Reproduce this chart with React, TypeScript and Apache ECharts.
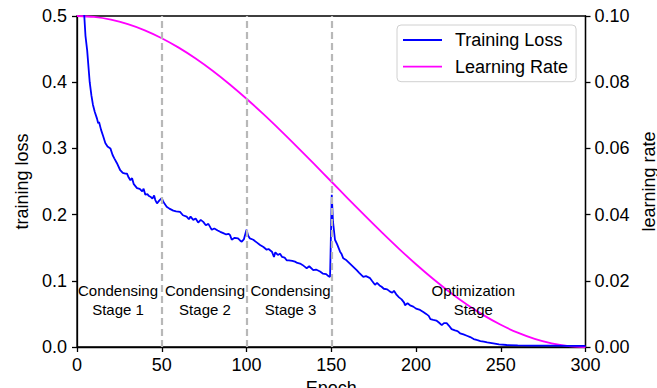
import React, { useEffect, useRef } from "react";
import * as echarts from "echarts";

const lossEpochs = [3, 4.3, 5, 6, 7.5, 8.5, 9.4, 10.5, 11.8, 12.5, 13, 14.2, 15.5, 16.7, 18, 19.7, 21, 22, 23.5, 25.5, 27, 28.5, 29.5, 30.5, 31.5, 32.5, 33.5, 35.4, 37, 38.5, 39.3, 40.3, 41.5, 42.5, 43.3, 44.5, 45.5, 46.2, 47.2, 48.5, 50, 51, 52.9, 54.5, 56.8, 58.5, 60.8, 62.5, 64.7, 66, 67, 68.6, 70, 71.5, 73, 74.5, 76, 77.5, 79.5, 81, 83, 84.5, 86.3, 88, 89.5, 90.3, 91.3, 93, 95, 96.2, 97.2, 98.5, 100, 101, 102, 104, 106, 108, 110, 111.9, 113, 115, 116.2, 117, 118.5, 119.8, 121, 122.5, 123.7, 125, 127, 128.6, 130, 131.6, 133, 134.5, 135.5, 137, 139.4, 141, 143.4, 145, 147, 148.3, 149.3, 150.3, 151, 152.2, 153.5, 155.2, 156, 157.1, 159, 161, 163, 165, 166.5, 168.9, 170.5, 172.9, 174, 175.8, 177, 178.5, 179.7, 181, 183, 184.7, 186, 187, 188.6, 190, 191.5, 193, 193.5, 195, 196.5, 198.4, 200, 202.4, 204.3, 206, 207.5, 208.5, 210.2, 212, 213.5, 215.2, 216.5, 218.1, 219.5, 221, 223, 224.5, 226, 228, 230, 232, 234, 235.8, 238, 240, 242, 245.6, 249, 253.5, 260, 268.6, 280, 290, 300];
const lossValues = [0.56, 0.5, 0.47, 0.448, 0.4, 0.38, 0.366, 0.355, 0.345, 0.338, 0.34, 0.328, 0.318, 0.308, 0.303, 0.3, 0.29, 0.285, 0.278, 0.267, 0.263, 0.262, 0.262, 0.256, 0.252, 0.255, 0.246, 0.24, 0.239, 0.235, 0.239, 0.23, 0.231, 0.228, 0.227, 0.224, 0.229, 0.222, 0.217, 0.221, 0.225, 0.219, 0.212, 0.209, 0.206, 0.205, 0.204, 0.199, 0.197, 0.193, 0.197, 0.192, 0.194, 0.188, 0.192, 0.189, 0.184, 0.186, 0.177, 0.179, 0.176, 0.174, 0.172, 0.17, 0.171, 0.169, 0.162, 0.165, 0.164, 0.161, 0.159, 0.163, 0.177, 0.168, 0.164, 0.162, 0.158, 0.154, 0.151, 0.147, 0.148, 0.144, 0.136, 0.143, 0.139, 0.141, 0.136, 0.135, 0.131, 0.131, 0.13, 0.129, 0.127, 0.126, 0.124, 0.121, 0.119, 0.122, 0.116, 0.117, 0.114, 0.111, 0.11, 0.107, 0.106, 0.23, 0.19, 0.162, 0.155, 0.144, 0.141, 0.134, 0.131, 0.126, 0.121, 0.116, 0.112, 0.106, 0.107, 0.104, 0.1, 0.094, 0.097, 0.093, 0.091, 0.088, 0.087, 0.0836, 0.082, 0.085, 0.0786, 0.075, 0.072, 0.067, 0.063, 0.066, 0.063, 0.061, 0.058, 0.056, 0.053, 0.05, 0.047, 0.042, 0.041, 0.04, 0.037, 0.033, 0.036, 0.036, 0.032, 0.027, 0.025, 0.024, 0.0207, 0.019, 0.017, 0.015, 0.012, 0.0106, 0.009, 0.008, 0.007, 0.0055, 0.004, 0.003, 0.0025, 0.002, 0.002, 0.0018, 0.0018];

const lrEpochs = [0, 10, 20, 30, 40, 50, 60, 70, 80, 90, 100, 110, 120, 130, 140, 150, 160, 170, 180, 190, 200, 210, 220, 230, 240, 250, 260, 270, 280, 290, 300];
const lrValues = [0.1, 0.09973, 0.09891, 0.09755, 0.09568, 0.0933, 0.09045, 0.08716, 0.08346, 0.07939, 0.075, 0.07034, 0.06545, 0.0604, 0.05523, 0.05, 0.04477, 0.0396, 0.03455, 0.02966, 0.025, 0.02061, 0.01654, 0.01284, 0.00955, 0.0067, 0.00432, 0.00245, 0.00109, 0.00027, 0];

const stageBoundaries = [50, 100, 150];
const stageLabels = ["Condensing\nStage 1", "Condensing\nStage 2", "Condensing\nStage 3", "Optimization\nStage"];
const stageLabelEpochs = [24.2, 75.5, 126, 233.8];
const stageLabelLoss = [0.071, 0.071, 0.071, 0.071];

const FONT = "Liberation Sans, Arial, sans-serif";

export default function App() {
  const ref = useRef<HTMLDivElement>(null);
  useEffect(() => {
    if (!ref.current) return;
    const chart = echarts.init(ref.current, null, { renderer: "svg" });
    const axisLine = { lineStyle: { color: "#000", width: 1.3 } };
    const axisTick = { inside: false, length: 5, lineStyle: { color: "#000", width: 1.3 } };
    chart.setOption({
      animation: false,
      backgroundColor: "#fff",
      textStyle: { fontFamily: FONT },
      grid: {
        left: 77,
        right: 71.5,
        top: 16,
        bottom: 41,
        containLabel: false,
        outerBoundsMode: "none",
        show: true,
        borderColor: "#000",
        borderWidth: 1.3,
      },
      legend: {
        data: [
          { name: "Training Loss", icon: "rect" },
          { name: "Learning Rate", icon: "rect" },
        ],
        orient: "vertical",
        left: 397,
        top: 25,
        padding: [5, 8, 5, 6],
        itemWidth: 39,
        itemHeight: 1.8,
        itemGap: 6.7,
        borderColor: "#d0d0d0",
        borderWidth: 1,
        borderRadius: 4,
        backgroundColor: "rgba(255,255,255,0.8)",
        textStyle: { fontSize: 18, color: "#000", fontFamily: FONT, lineHeight: 20, padding: [0, 0, 0, 8] },
      },
      xAxis: {
        type: "value",
        min: 0,
        max: 300,
        interval: 50,
        axisLine,
        axisTick,
        splitLine: { show: false },
        axisLabel: { fontSize: 18, color: "#000", margin: 9, fontFamily: FONT },
        name: "Epoch",
        nameLocation: "middle",
        nameGap: 32,
        nameTextStyle: { fontSize: 18, color: "#000", fontFamily: FONT },
      },
      yAxis: [
        {
          type: "value",
          min: 0,
          max: 0.5,
          interval: 0.1,
          axisLine: { show: true, ...axisLine },
          axisTick: { show: true, ...axisTick },
          splitLine: { show: false },
          axisLabel: { fontSize: 18, color: "#000", margin: 10, fontFamily: FONT, formatter: (v: number) => v.toFixed(1) },
          name: "training loss",
          nameLocation: "middle",
          nameRotate: 90,
          nameGap: 43,
          nameTextStyle: { fontSize: 18, color: "#000", fontFamily: FONT },
        },
        {
          type: "value",
          position: "right",
          min: 0,
          max: 0.1,
          interval: 0.02,
          axisLine: { show: true, ...axisLine },
          axisTick: { show: true, ...axisTick },
          splitLine: { show: false },
          axisLabel: { fontSize: 18, color: "#000", margin: 9, fontFamily: FONT, formatter: (v: number) => v.toFixed(2) },
          name: "learning rate",
          nameLocation: "middle",
          nameRotate: 90,
          nameGap: 54,
          nameTextStyle: { fontSize: 18, color: "#000", fontFamily: FONT },
        },
      ],
      series: [
        {
          name: "Training Loss",
          type: "line",
          yAxisIndex: 0,
          showSymbol: false,
          symbol: "none",
          clip: true,
          data: lossEpochs.map((e, i) => [e, lossValues[i]]),
          lineStyle: { color: "#0000ff", width: 1.8 },
          itemStyle: { color: "#0000ff" },
          markLine: {
            silent: true,
            symbol: "none",
            label: { show: false },
            lineStyle: { color: "#b8b8b8", type: [7, 4], width: 2.2 },
            data: stageBoundaries.map((x) => ({ xAxis: x })),
          },
          z: 3,
        },
        {
          name: "Learning Rate",
          type: "line",
          yAxisIndex: 1,
          showSymbol: false,
          symbol: "none",
          smooth: 0.3,
          data: lrEpochs.map((e, i) => [e, lrValues[i]]),
          lineStyle: { color: "#ff00ff", width: 1.8 },
          itemStyle: { color: "#ff00ff" },
          z: 2,
        },
        {
          name: "stages",
          type: "scatter",
          yAxisIndex: 0,
          symbolSize: 0,
          itemStyle: { color: "#000" },
          silent: true,
          data: stageLabelEpochs.map((e, i) => ({ value: [e, stageLabelLoss[i]], name: stageLabels[i] })),
          label: {
            show: true,
            position: "inside",
            formatter: (p: any) => p.name,
            fontSize: 15,
            lineHeight: 18.5,
            color: "#000",
            opacity: 1,
            fontFamily: FONT,
            align: "center",
          },
          z: 4,
        },
      ],
    });
    return () => chart.dispose();
  }, []);
  return <div ref={ref} style={{ position: "fixed", left: 0, top: 0, width: 657, height: 388 }} />;
}
